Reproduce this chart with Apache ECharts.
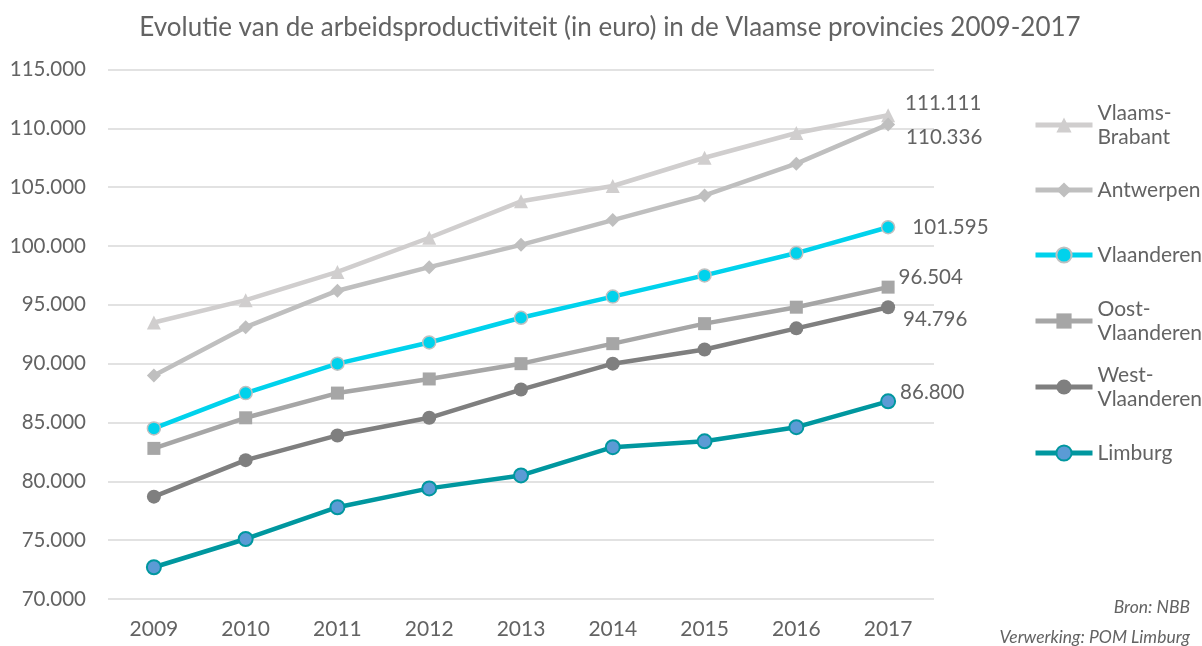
<!DOCTYPE html>
<html>
<head>
<meta charset="utf-8">
<script src="https://cdn.jsdelivr.net/npm/echarts@6/dist/echarts.min.js"></script>
<style>
  html, body { margin: 0; padding: 0; background: #fff; }
  #chart { width: 1202px; height: 646px; }
</style>
</head>
<body>
<div id="chart"></div>
<script>
var years = ['2009', '2010', '2011', '2012', '2013', '2014', '2015', '2016', '2017'];

var vlaamsBrabant   = [93500, 95400, 97800, 100700, 103800, 105100, 107500, 109600, 111111];
var antwerpen       = [89000, 93100, 96200, 98200, 100100, 102200, 104300, 107000, 110336];
var vlaanderen      = [84500, 87500, 90000, 91800, 93900, 95700, 97500, 99400, 101595];
var oostVlaanderen  = [82800, 85400, 87500, 88700, 90000, 91700, 93400, 94800, 96504];
var westVlaanderen  = [78700, 81800, 83900, 85400, 87800, 90000, 91200, 93000, 94796];
var limburg         = [72700, 75100, 77800, 79400, 80500, 82900, 83400, 84600, 86800];

var textColor = '#636363';
var font = 'Lato';

function nl(v) {
  return String(Math.round(v)).replace(/\B(?=(\d{3})+(?!\d))/g, '.');
}

var myChart = echarts.init(document.getElementById('chart'));

// only the last point (2017) carries a label
function lastLabeled(arr, offset) {
  return arr.map(function (v, i) {
    if (i !== arr.length - 1) return v;
    return {
      value: v,
      label: {
        show: true,
        position: 'right',
        offset: offset,
        formatter: function (p) { return nl(p.value); },
        color: textColor,
        fontFamily: font,
        fontSize: 20.5
      }
    };
  });
}

function mkSeries(name, data, color, symbol, size, offset, extra) {
  var s = {
    name: name,
    type: 'line',
    data: lastLabeled(data, offset),
    symbol: symbol,
    symbolSize: size,
    lineStyle: { color: color, width: 4.5 },
    itemStyle: { color: color },
    z: 2
  };
  if (extra) Object.assign(s, extra);
  return s;
}

var series = [
  mkSeries('Vlaams-Brabant', vlaamsBrabant, '#d0cece', 'triangle', 14, [5, -12]),
  mkSeries('Antwerpen', antwerpen, '#bfbfbf', 'diamond', 14, [6, 13]),
  mkSeries('Vlaanderen', vlaanderen, '#00d2ec', 'circle', 13, [12, 0], {
    itemStyle: { color: '#00d2ec', borderColor: '#c0c0c0', borderWidth: 1.5 }
  }),
  mkSeries('Oost-Vlaanderen', oostVlaanderen, '#a6a6a6', 'rect', 13, [-1, -10]),
  mkSeries('West-Vlaanderen', westVlaanderen, '#7f7f7f', 'circle', 14, [3, 12]),
  mkSeries('Limburg', limburg, '#00979f', 'circle', 14, [-1, -9], {
    itemStyle: { color: '#5b9bd5', borderColor: '#00979f', borderWidth: 2 }
  })
];

var legendNames = [
  ['Vlaams-Brabant', 'Vlaams-\nBrabant', 123],
  ['Antwerpen', 'Antwerpen', 190],
  ['Vlaanderen', 'Vlaanderen', 255],
  ['Oost-Vlaanderen', 'Oost-\nVlaanderen', 319],
  ['West-Vlaanderen', 'West-\nVlaanderen', 385],
  ['Limburg', 'Limburg', 453]
];

var legends = legendNames.map(function (l) {
  var twoLine = l[1].indexOf('\n') >= 0;
  return {
    data: [l[0]],
    left: 1033,
    top: twoLine ? l[2] - 34 : l[2] - 12,
    padding: 0,
    itemWidth: 57,
    itemHeight: 19,
    selectedMode: false,
    lineStyle: { width: 5 },
    formatter: function () { return l[1]; },
    textStyle: {
      color: textColor,
      fontFamily: font,
      fontSize: 21,
      lineHeight: 24,
      padding: twoLine ? [24, 0, 0, 0] : 0
    }
  };
});

var option = {
  animation: false,
  backgroundColor: '#fff',
  title: {
    text: 'Evolutie van de arbeidsproductiviteit (in euro) in de Vlaamse provincies 2009-2017',
    left: 605,
    textAlign: 'center',
    top: 10,
    textStyle: { color: textColor, fontFamily: font, fontSize: 26, fontWeight: 'normal' }
  },
  legend: legends,
  grid: { left: 108, right: 268, top: 69.5, bottom: 47 },
  xAxis: {
    type: 'category',
    data: years,
    boundaryGap: true,
    axisLine: { show: false },
    axisTick: { show: false },
    axisLabel: { color: textColor, fontFamily: font, fontSize: 21, margin: 20 }
  },
  yAxis: {
    type: 'value',
    min: 70000,
    max: 115000,
    interval: 5000,
    axisLine: { show: false },
    axisTick: { show: false },
    axisLabel: {
      color: textColor, fontFamily: font, fontSize: 20.5, margin: 22,
      formatter: function (v) { return nl(v); }
    },
    splitLine: { lineStyle: { color: '#d9d9d9', width: 1.5 } }
  },
  graphic: [
    {
      type: 'text', right: 12, top: 598,
      style: { text: 'Bron: NBB', fill: textColor, font: 'italic 17.5px Lato', textAlign: 'right' }
    },
    {
      type: 'text', right: 12, top: 628,
      style: { text: 'Verwerking: POM Limburg', fill: textColor, font: 'italic 17.5px Lato', textAlign: 'right' }
    }
  ],
  series: series
};

myChart.setOption(option);
</script>
</body>
</html>
